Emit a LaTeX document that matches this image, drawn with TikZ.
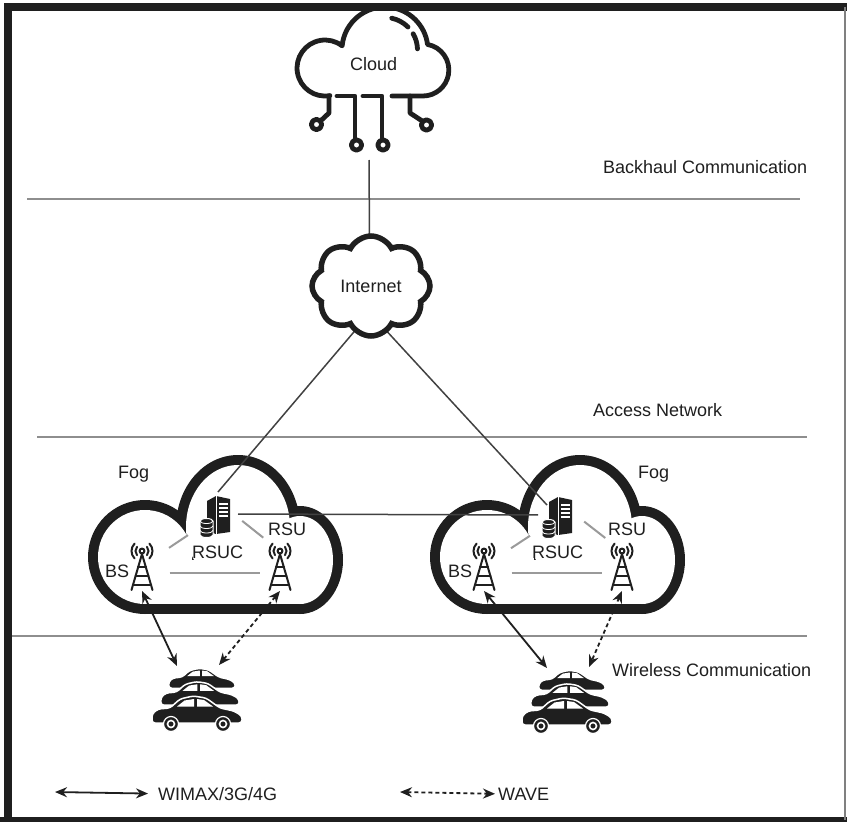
\documentclass[tikz,border=0pt]{standalone}
\usepackage{fontspec}
\setmainfont{Liberation Sans}
\usetikzlibrary{arrows.meta,calc,shapes.symbols}

\definecolor{ink}{HTML}{1F1F1F}
\definecolor{rulegray}{HTML}{8E8E8E}
\definecolor{tiegray}{HTML}{9A9A9A}

\tikzset{
  lbl/.style={font=\fontsize{18}{21}\selectfont,text=ink,inner sep=0pt},
  layer/.style={draw=rulegray,line width=2pt},
  wire/.style={draw=ink!85,line width=1.5pt},
  tie/.style={draw=tiegray,line width=2pt},
  wimax/.style={draw=ink,line width=1.8pt,{Stealth[length=12pt,width=10pt]}-{Stealth[length=12pt,width=10pt]}},
  wave/.style={wimax,dash pattern=on 4pt off 3pt},
  inet/.style={cloud,cloud puffs=8,cloud puff arc=125,cloud ignores aspect,draw=ink,line width=5.5pt,
    fill=white,minimum width=118pt,minimum height=100pt},
  fog/.pic={
    \fill[ink] (-93,30) circle[radius=57];
    \fill[ink] (0,0) ellipse[x radius=62,y radius=72];
    \fill[ink] (62,33) ellipse[x radius=43,y radius=54];
    \fill[ink] (-93,33) rectangle (62,87);
    \fill[white] (-93,30) circle[radius=47];
    \fill[white] (0,0) ellipse[x radius=52,y radius=62];
    \fill[white] (62,33) ellipse[x radius=33,y radius=44];
    \fill[white] (-93,33) rectangle (62,77);
  },
  tower/.pic={
    \coordinate (-c) at (0,0);
    \coordinate (-t) at (0,-15);
    \coordinate (-m) at (0,7);
    \coordinate (-s) at (0,25);
    \begin{scope}[ink,line width=2pt,line cap=round]
      \draw (0,-15) circle[radius=2.4];
      \draw (0,-15) ++(140:6.5) arc[start angle=140,end angle=220,radius=6.5];
      \draw (0,-15) ++(-40:6.5) arc[start angle=-40,end angle=40,radius=6.5];
      \draw (0,-15) ++(135:10.5) arc[start angle=135,end angle=225,radius=10.5];
      \draw (0,-15) ++(-45:10.5) arc[start angle=-45,end angle=45,radius=10.5];
      \draw (0,-12) -- (-10.5,24) (0,-12) -- (10.5,24);
      \draw (-4,1) -- (4,1) (-6.5,10) -- (6.5,10) (-9,19) -- (9,19);
    \end{scope}
  },
  server/.pic={
    \coordinate (-c) at (0,0);
    \coordinate (-n) at (3,-25);
    \coordinate (-nw) at (-10,-13);
    \coordinate (-ne) at (11,-9);
    \coordinate (-e) at (15,-3);
    \coordinate (-w) at (-8,-3);
    \fill[ink] (-8,-16) -- (1,-21) -- (15,-18) -- (15,15) -- (1,17) -- (-8,14) -- cycle;
    \draw[white,line width=.8pt] (1,-21) -- (1,17);
    \foreach \y in {-13,-9,-5,-1} \draw[white,line width=1.3pt] (4,\y) -- (13,\y);
    \filldraw[fill=ink,draw=white,line width=1pt] (-15,4) -- (-15,18)
      arc[start angle=180,end angle=0,x radius=6.5,y radius=2.5] -- (-2,4)
      arc[start angle=0,end angle=-180,x radius=6.5,y radius=2.5] -- cycle;
    \foreach \y in {4,9,13.5}
      \draw[white,line width=.8pt] (-15,\y) arc[start angle=180,end angle=0,x radius=6.5,y radius=2.5];
  },
  carbody/.pic={
    \filldraw[fill=ink,draw=white,line width=1.5pt,rounded corners=3pt]
      (-45,-1) -- (-45,-10) -- (-39,-15) -- (-27,-16) -- (-17,-25) -- (-4,-28) -- (9,-26)
      -- (23,-16) -- (37,-13) -- (45,-8) -- (45,-1) -- cycle;
    \fill[white] (-20,-17.5) -- (-12.5,-23.5) -- (-3,-25) -- (-3,-17.5) -- cycle
      (0,-17.5) -- (0,-25) -- (7,-24) -- (16,-17.5) -- cycle;
  },
  car/.pic={
    \pic {carbody};
    \foreach \x in {-26,26}{
      \filldraw[fill=ink,draw=white,line width=1.2pt] (\x,0) circle[radius=7.5];
      \draw[white,line width=1.6pt] (\x,0) circle[radius=3.5];
    }
  },
  cars/.pic={
    \coordinate (-l) at (-20,-58);
    \coordinate (-r) at (22,-59);
    \pic[scale=.74] at (5,-35) {carbody};
    \pic[scale=.87] at (3,-18) {carbody};
    \pic at (0,0) {car};
  }
}

\begin{document}
\begin{tikzpicture}[x=1pt,y=-1pt]
\useasboundingbox (0,0) rectangle (847,822);
\fill[white] (0,0) rectangle (847,822);

% layers
\draw[layer] (27,199) -- (800,199);
\draw[layer] (37,437) -- (807,437);
\draw[layer] (10,636) -- (807,636);
\node[lbl,anchor=base west] (backhaul) at (603,173) {Backhaul Communication};
\node[lbl,anchor=base west] (access) at (593,416) {Access Network};
\node[lbl,anchor=base west] (wireless) at (612,676) {Wireless Communication};

% cloud with its circuit legs
\begin{scope}[ink,line width=4.8pt,line cap=round,line join=round]
  \draw (329,96) -- (329.9,95.6) arc[start angle=80,end angle=307.6,radius=28]
    arc[start angle=185.6,end angle=352.5,radius=43]
    arc[start angle=280.4,end angle=450,radius=26] -- (392,96);
  \draw (385,50) ++(282:32.5) arc[start angle=282,end angle=315,radius=32.5];
  \draw (385,50) ++(330:32.5) arc[start angle=330,end angle=358,radius=32.5];
  \draw (329,96) -- (329,113) -- (320.5,121);
  \draw (337,96) -- (355,96) -- (355,139.5);
  \draw (363,96) -- (382,96) -- (382,139.5);
  \draw (410,96) -- (410,113) -- (423,121.5);
  \draw (316.5,124.5) circle[radius=5.2] (356.5,145) circle[radius=5.2]
    (383,145) circle[radius=5.2] (426.5,125) circle[radius=5.2];
\end{scope}
\node[lbl,anchor=base west] (cloudtxt) at (350,70) {Cloud};
\coordinate (uplink) at (369,160);
\coordinate (hub) at (370,313);

% fog zones
\pic at (238,527) {fog};
\pic at (580,527) {fog};
\pic (rsuc1) at (215,517) {server};
\pic (rsuc2) at (557,518) {server};
\pic (bs1) at (142,566) {tower};
\pic (rsu1) at (280,566) {tower};
\pic (bs2) at (484,566) {tower};
\pic (rsu2) at (622,566) {tower};

\draw[wire] (uplink) -- (hub);
\draw[wire] (hub) -- (rsuc1-n);
\draw[wire] (hub) -- (rsuc2-nw);
\draw[wire,shorten <=8pt,shorten >=11pt] (rsuc1-e) -- (rsuc2-w);
\node[inet,lbl] (internet) at (371,286) {Internet};

\foreach \z in {1,2}{
  \draw[tie] ($(rsuc\z-c)!.37!(bs\z-c)$) -- ($(rsuc\z-c)!.63!(bs\z-c)$);
  \draw[tie] ($(rsuc\z-ne)!.3!(rsu\z-t)$) -- ($(rsuc\z-ne)!.69!(rsu\z-t)$);
  \draw[tie] ($(bs\z-m)!.2!(rsu\z-m)$) -- ($(bs\z-m)!.855!(rsu\z-m)$);
}
\node[lbl,anchor=base west] (fog1) at (118,478) {Fog};
\node[lbl,anchor=base west] (fog2) at (638,478) {Fog};
\node[lbl,anchor=base west] (rsuc1txt) at (192,558) {RSUC};
\node[lbl,anchor=base west] (rsuc2txt) at (532,558) {RSUC};
\node[lbl,anchor=base west] (rsu1txt) at (268,535) {RSU};
\node[lbl,anchor=base west] (rsu2txt) at (608,535) {RSU};
\node[lbl,anchor=base west] (bs1txt) at (105,577) {BS};
\node[lbl,anchor=base west] (bs2txt) at (448,577) {BS};

% vehicles
\pic (carsL) at (197,724) {cars};
\pic (carsR) at (567,726) {cars};
\draw[wimax] (bs1-s) -- (carsL-l);
\draw[wave] (rsu1-s) -- (carsL-r);
\draw[wimax] (bs2-s) -- (carsR-l);
\draw[wave] (rsu2-s) -- (carsR-r);

% key
\coordinate (k1) at (55,792);
\coordinate (k2) at (400,792);
\node[lbl,anchor=base west] (wimaxkey) at (158,800) {WIMAX/3G/4G};
\node[lbl,anchor=base west] (wavekey) at (498,800) {WAVE};
\draw[wimax] (k1) -- ([xshift=-10pt]wimaxkey.west);
\draw[wave] (k2) -- ([xshift=-3pt]wavekey.west);

% frame
\draw[ink,line width=8pt] (8,822) -- (8,7) -- (847,7);
\draw[ink,line width=6pt] (0,820) -- (847,820);
\draw[gray,line width=1.5pt] (845,7) -- (845,820);
\end{tikzpicture}
\end{document}
